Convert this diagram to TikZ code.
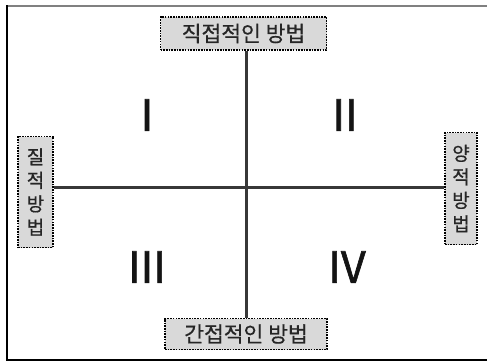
\documentclass[tikz,border=0pt]{standalone}
\usepackage{fontspec}
\setmainfont{Noto Sans CJK KR}
\newfontfamily\boldish[FakeBold=0.5]{Noto Sans CJK KR}
\newfontfamily\numfont[FakeBold=1.5]{Noto Sans CJK KR}
\begin{document}
\begin{tikzpicture}[x=1bp,y=-1bp,
  lbl/.style={draw=black,fill=gray!30,line width=1.8bp,dash pattern=on 1.6bp off 1.1bp,inner sep=0pt,text=black!85,font=\boldish\fontsize{21.5bp}{22bp}\selectfont},
  vlbl/.style={lbl,align=center,font=\boldish\fontsize{19bp}{23.5bp}\selectfont},
  axis/.style={draw=black!78,line width=3bp},
  num/.style={text=black!92,font=\numfont\fontsize{43bp}{43bp}\selectfont}]
\useasboundingbox (0,0) rectangle (487,361);
\draw[gray,line width=2bp] (6,5.5) -- (487,5.5);
\draw[black,line width=2bp] (6.5,5) -- (6.5,360) -- (487,360);
\node[lbl,minimum width=166bp,minimum height=33bp] (top) at (243.5,33.5) {직접적인 방법};
\node[lbl,minimum width=162bp,minimum height=31bp] (bot) at (246,334) {간접적인 방법};
\node[vlbl,minimum width=35bp,minimum height=111bp] (lft) at (35.5,192) {질\\적\\방\\법};
\node[vlbl,minimum width=32bp,minimum height=112bp] (rgt) at (461,188.5) {양\\적\\방\\법};
\coordinate (c) at (246,187);
\draw[axis] (top.south -| c) -- (bot.north -| c);
\draw[axis] (lft.east |- c) -- (rgt.west |- c);
\node[num] (q1) at (147,115) {I};
\node[num] (q2) at (345,115) {II};
\node[num] (q3) at (147,267) {III};
\node[num] (q4) at (347,267) {IV};
\end{tikzpicture}
\end{document}
